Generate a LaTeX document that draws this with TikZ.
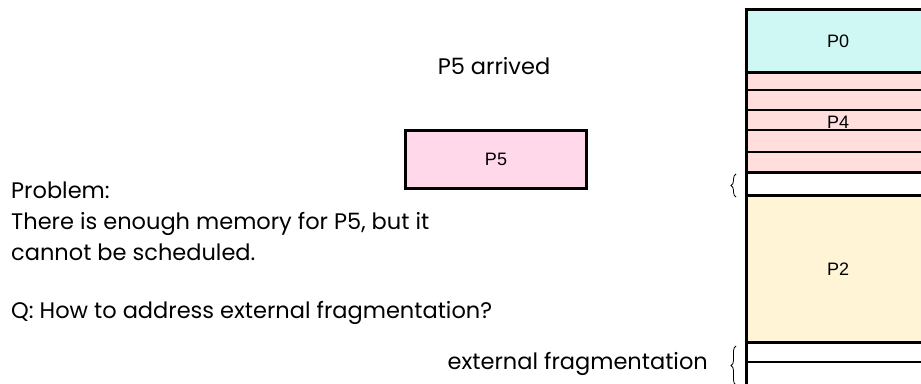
\documentclass[tikz,border=0pt]{standalone}
\usepackage{fontspec}
\setmainfont{Poppins}
\newfontfamily\arialf{Liberation Sans}
\usetikzlibrary{decorations.pathreplacing}
\definecolor{pzero}{HTML}{CFF8F4}
\definecolor{pfour}{HTML}{FFDEDC}
\definecolor{ptwo}{HTML}{FFF5D6}
\definecolor{pfive}{HTML}{FFD9EA}
\tikzset{
  thick line/.style={line width=3pt},
  thin line/.style={line width=1.4pt},
  lbl/.style={font=\arialf\fontsize{18}{21}\selectfont},
  txt/.style={font=\fontsize{22.5}{31}\selectfont, inner sep=0pt},
  brc/.style={decorate, decoration={brace, amplitude=5pt, mirror}, line width=0.8pt}
}
\begin{document}
\begin{tikzpicture}[x=1pt,y=-1pt]
\useasboundingbox (0,0) rectangle (921,383);
\clip (0,0) rectangle (921,383);
% memory column
\fill[pzero] (746,9) rectangle (935,72);
\fill[pfour] (746,72) rectangle (935,172);
\fill[white] (746,172) rectangle (935,195);
\fill[ptwo] (746,195) rectangle (935,342);
\fill[white] (746,342) rectangle (935,390);
\foreach \y in {90,110,130,152,362} \draw[thin line] (746,\y) -- (935,\y);
\foreach \y in {9,72,172,195,342} \draw[thick line] (744.5,\y) -- (935,\y);
\draw[thick line] (746,7.5) -- (746,390);
\node[lbl] (p0) at (838,41) {P0};
\node[lbl] (p4) at (838,122) {P4};
\node[lbl] (p2) at (838,269) {P2};
% braces
\draw[brc] (736,174) -- (736,197);
\draw[brc] (736,346) -- (736,385);
% P5
\node[draw, line width=3pt, fill=pfive, minimum width=181pt, minimum height=58pt, lbl] (p5) at (496,159.5) {P5};
\node[txt] (arr) at (494,66) {P5 arrived};
\node[txt, anchor=west, align=left] (prob) at (11,221) {Problem:\\There is enough memory for P5, but it\\cannot be scheduled.};
\node[txt, anchor=west] (q) at (11,313) {Q: How to address external fragmentation?};
\node[txt, anchor=east] (ext) at (708,364) {external fragmentation};
\end{tikzpicture}
\end{document}
